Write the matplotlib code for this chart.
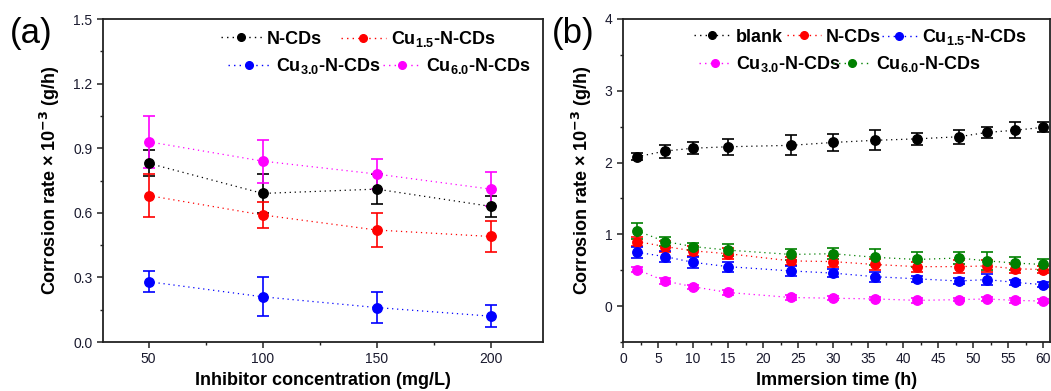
import numpy as np
import matplotlib
matplotlib.use('Agg')
from matplotlib import pyplot as plt
from matplotlib.ticker import MultipleLocator, FormatStrFormatter
from matplotlib.lines import Line2D

plt.rcParams['font.family'] = ['Liberation Sans', 'DejaVu Sans']
plt.rcParams['mathtext.default'] = 'regular'

# (a) corrosion rate vs inhibitor concentration
conc = [50, 100, 150, 200]
ncds_a = [0.83, 0.69, 0.71, 0.63]
ncds_a_err = [0.06, 0.09, 0.07, 0.05]
cu15_a = [0.68, 0.59, 0.52, 0.49]
cu15_a_err = [0.10, 0.06, 0.08, 0.07]
cu30_a = [0.28, 0.21, 0.16, 0.12]
cu30_a_err = [0.05, 0.09, 0.07, 0.05]
cu60_a = [0.93, 0.84, 0.78, 0.71]
cu60_a_err = [0.12, 0.10, 0.07, 0.08]

# (b) corrosion rate vs immersion time
hours = [2, 6, 10, 15, 24, 30, 36, 42, 48, 52, 56, 60]
blank_b = [2.08, 2.16, 2.20, 2.22, 2.24, 2.28, 2.31, 2.33, 2.36, 2.42, 2.45, 2.49]
blank_b_err = [0.05, 0.09, 0.08, 0.11, 0.14, 0.12, 0.14, 0.08, 0.10, 0.08, 0.11, 0.07]
ncds_b = [0.90, 0.83, 0.77, 0.73, 0.63, 0.62, 0.58, 0.55, 0.55, 0.56, 0.52, 0.51]
ncds_b_err = [0.06, 0.08, 0.07, 0.08, 0.06, 0.08, 0.07, 0.07, 0.09, 0.08, 0.06, 0.05]
cu15_b = [0.75, 0.69, 0.61, 0.55, 0.49, 0.46, 0.41, 0.38, 0.35, 0.37, 0.33, 0.30]
cu15_b_err = [0.08, 0.08, 0.08, 0.07, 0.07, 0.06, 0.07, 0.04, 0.04, 0.08, 0.04, 0.03]
cu30_b = [0.51, 0.35, 0.27, 0.19, 0.12, 0.11, 0.10, 0.08, 0.09, 0.10, 0.08, 0.07]
cu30_b_err = [0.03, 0.04, 0.03, 0.04, 0.03, 0.03, 0.02, 0.03, 0.02, 0.03, 0.03, 0.03]
cu60_b = [1.05, 0.90, 0.83, 0.78, 0.72, 0.73, 0.68, 0.65, 0.67, 0.63, 0.60, 0.58]
cu60_b_err = [0.11, 0.06, 0.05, 0.08, 0.08, 0.08, 0.11, 0.10, 0.08, 0.12, 0.09, 0.07]

ylabel = 'Corrosion rate $\\times$ 10$^{\\mathbf{-3}}$ (g/h)'
tick_color = '#1a1a2e'
dots = (0, (1, 3))
W, H = 1051, 391
LEG_FS = 13


def draw_series(ax, x, y, err, color, label):
    ax.errorbar(x, y, yerr=err, color=color, marker='o', markersize=6.8,
                linestyle=dots, linewidth=0.9, elinewidth=1.2,
                capsize=4, capthick=1.2)
    # plain line+marker handle for the legend (no error bar glyph)
    return Line2D([], [], color=color, marker='o', markersize=5.5,
                  linestyle=dots, linewidth=1.0, label=label)


def style_axes(ax):
    for sp in ax.spines.values():
        sp.set_linewidth(1.3)
        sp.set_color('#222222')
    ax.tick_params(which='both', direction='out', top=False, right=False,
                   labelsize=10, colors='#222222', labelcolor=tick_color)
    ax.tick_params(which='major', length=4, width=1.1)
    ax.tick_params(which='minor', length=2.5, width=1.0)


def legend_entry(fig, handle, hx, tx, y):
    # one legend per entry: handle starts at hx, text at tx (pixels), row centre y
    fs_px = LEG_FS * 100 / 72
    pad = 0.3
    hl = (tx - hx) / fs_px - pad
    fig.legend(handles=[handle], loc='center left',
               bbox_to_anchor=(hx / W, 1 - y / H), frameon=False,
               prop={'weight': 'bold', 'size': LEG_FS}, handlelength=hl,
               handletextpad=pad, borderpad=0, borderaxespad=0)


fig = plt.figure(figsize=(W / 100, H / 100), dpi=100)

# panel (a)
ax1 = fig.add_axes([103 / W, 1 - 342 / H, 440 / W, 323 / H])
h_n = draw_series(ax1, conc, ncds_a, ncds_a_err, 'black', 'N-CDs')
h_15 = draw_series(ax1, conc, cu15_a, cu15_a_err, 'red', 'Cu$_{1.5}$-N-CDs')
h_30 = draw_series(ax1, conc, cu30_a, cu30_a_err, 'blue', 'Cu$_{3.0}$-N-CDs')
h_60 = draw_series(ax1, conc, cu60_a, cu60_a_err, 'magenta', 'Cu$_{6.0}$-N-CDs')
ax1.set_xlim(30, 223)
ax1.set_ylim(0, 1.5)
ax1.xaxis.set_major_locator(MultipleLocator(50))
ax1.xaxis.set_minor_locator(MultipleLocator(25))
ax1.yaxis.set_major_locator(MultipleLocator(0.3))
ax1.yaxis.set_minor_locator(MultipleLocator(0.15))
ax1.yaxis.set_major_formatter(FormatStrFormatter('%.1f'))
style_axes(ax1)
ax1.set_xlabel('Inhibitor concentration (mg/L)', fontsize=13, fontweight='bold', labelpad=4)
ax1.set_ylabel(ylabel, fontsize=13, fontweight='bold', labelpad=8)
legend_entry(fig, h_n, 221, 267, 39)
legend_entry(fig, h_15, 341, 391, 39)
legend_entry(fig, h_30, 228, 276, 66)
legend_entry(fig, h_60, 383, 426, 66)
fig.text(10 / W, 1 - 33 / H, '(a)', fontsize=25, va='center', ha='left')

# panel (b)
ax2 = fig.add_axes([623 / W, 1 - 342 / H, 427 / W, 323 / H])
h_b = draw_series(ax2, hours, blank_b, blank_b_err, 'black', 'blank')
h_n = draw_series(ax2, hours, ncds_b, ncds_b_err, 'red', 'N-CDs')
h_15 = draw_series(ax2, hours, cu15_b, cu15_b_err, 'blue', 'Cu$_{1.5}$-N-CDs')
h_30 = draw_series(ax2, hours, cu30_b, cu30_b_err, 'magenta', 'Cu$_{3.0}$-N-CDs')
h_60 = draw_series(ax2, hours, cu60_b, cu60_b_err, 'green', 'Cu$_{6.0}$-N-CDs')
ax2.set_xlim(0, 61)
ax2.set_ylim(-0.5, 4)
ax2.xaxis.set_major_locator(MultipleLocator(5))
ax2.xaxis.set_minor_locator(MultipleLocator(2.5))
ax2.yaxis.set_major_locator(MultipleLocator(1))
ax2.yaxis.set_minor_locator(MultipleLocator(0.5))
style_axes(ax2)
ax2.set_xlabel('Immersion time (h)', fontsize=13, fontweight='bold', labelpad=4)
ax2.set_ylabel(ylabel, fontsize=13, fontweight='bold', labelpad=8)
legend_entry(fig, h_b, 694, 736, 37)
legend_entry(fig, h_n, 787, 826, 37)
legend_entry(fig, h_15, 882, 922, 37)
legend_entry(fig, h_30, 699, 736, 64)
legend_entry(fig, h_60, 833, 876, 64)
fig.text(552 / W, 1 - 33 / H, '(b)', fontsize=25, va='center', ha='left')

fig.savefig('out.png', dpi=100)
